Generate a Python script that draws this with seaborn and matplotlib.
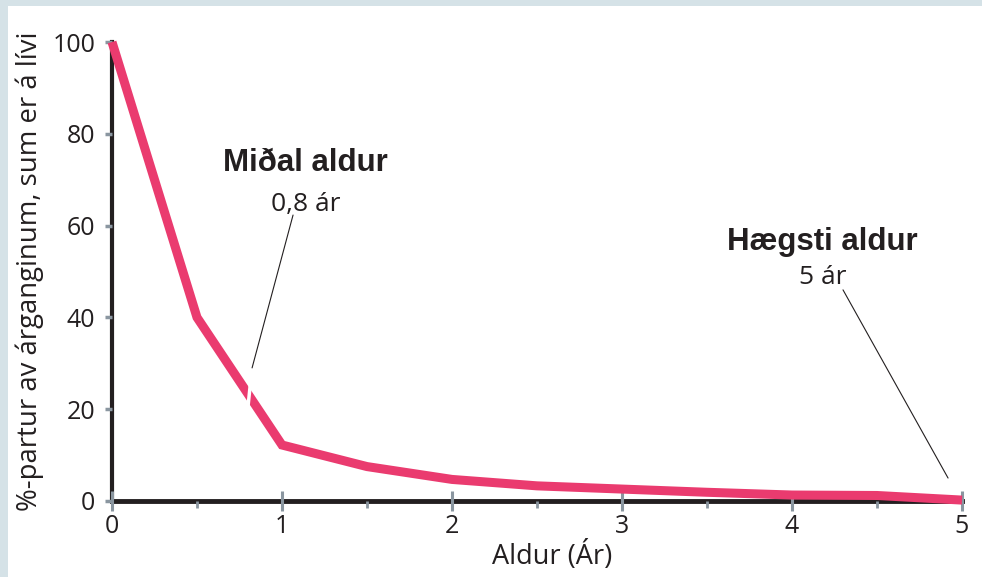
import pandas as pd
import matplotlib.pyplot as plt
import seaborn as sns
from matplotlib.patches import Rectangle
from matplotlib.ticker import MultipleLocator

# Data
aldur = [0, 0.5, 1, 1.5, 2, 2.5, 3, 3.5, 4, 4.5, 5]
partur_livi = [100, 40, 12.2, 7.5, 4.7, 3.3, 2.6, 1.9, 1.3, 1.2, 0.2]

x_ticks = [0, 1, 2, 3, 4, 5]
y_ticks = [0, 20, 40, 60, 80, 100]

df = pd.DataFrame({"aldur": aldur, "livi": partur_livi})

sns.set_style("white")
plt.rcParams['font.family'] = ['Open Sans', 'DejaVu Sans']

fig = plt.figure(figsize=(9.82, 5.77), dpi=100, facecolor='white')
# ljósblá rond vinstru og uppi
fig.patches.append(Rectangle((0, 0), 8 / 982, 1, transform=fig.transFigure,
                             facecolor='#D5E2E7', edgecolor='none', zorder=0))
fig.patches.append(Rectangle((0, 1 - 6 / 577), 1, 6 / 577, transform=fig.transFigure,
                             facecolor='#D5E2E7', edgecolor='none', zorder=0))

ax = fig.add_axes([112 / 982, 1 - 501 / 577, 850 / 982, 459 / 577])
ax.set_facecolor('none')
ax.set_axisbelow(False)

sns.lineplot(data=df, x='aldur', y='livi', ax=ax, color='#EA3B6F', linewidth=6.5,
             clip_on=False, zorder=3)
for ln in ax.lines:
    ln.set_solid_capstyle('butt')
    ln.set_solid_joinstyle('miter')

ax.set_xlim(0, 5)
ax.set_ylim(0, 100)
ax.set_xticks(x_ticks)
ax.set_yticks(y_ticks)
ax.xaxis.set_minor_locator(MultipleLocator(0.5))

for side in ['top', 'right']:
    ax.spines[side].set_visible(False)
ax.spines['left'].set_linewidth(3)
ax.spines['bottom'].set_linewidth(3.5)
ax.spines['left'].set_color('#231F20')
ax.spines['bottom'].set_color('#231F20')
ax.spines['left'].set_zorder(1)
ax.spines['bottom'].set_zorder(1)

ax.tick_params(axis='x', which='major', direction='inout', length=15, width=2.2,
               color='#8A96A0', labelsize=18, pad=2, labelcolor='#231F20', bottom=True)
ax.tick_params(axis='x', which='minor', direction='out', length=5, width=2,
               color='#8A96A0', bottom=True)
ax.tick_params(axis='y', which='major', direction='out', length=5, width=2.5,
               color='#8A96A0', labelsize=18, pad=7, labelcolor='#231F20', left=True)

ax.set_xlabel('Aldur (Ár)', fontsize=19.5, color='#231F20')
ax.xaxis.set_label_coords((552 - 112) / 850, -0.088)
ax.set_ylabel('%-partur av árganginum, sum er á lívi', fontsize=19.8, color='#231F20',
              labelpad=6)

# Miðal aldur
ax.text(1.14, 73.6, 'Miðal aldur', fontsize=22.5, fontweight='bold',
        family=['Liberation Sans', 'DejaVu Sans'], ha='center', va='center', color='#231F20')
ax.text(1.14, 64.5, '0,8 ár', fontsize=19, ha='center', va='center', color='#231F20')
ax.plot([1.065, 0.824], [62.3, 29], color='#231F20', linewidth=0.8, zorder=4)
ax.plot([0.818, 0.797], [27, 19.5], color='white', linewidth=2.5, zorder=5,
        solid_capstyle='butt')

# Hægsti aldur
ax.text(4.18, 56.4, 'Hægsti aldur', fontsize=22.5, fontweight='bold',
        family=['Liberation Sans', 'DejaVu Sans'], ha='center', va='center', color='#231F20')
ax.text(4.18, 48.8, '5 ár', fontsize=19, ha='center', va='center', color='#231F20')
ax.plot([4.30, 4.918], [46, 5.0], color='#231F20', linewidth=0.8, zorder=4)

fig.savefig('out.png', dpi=100, facecolor=fig.get_facecolor())
